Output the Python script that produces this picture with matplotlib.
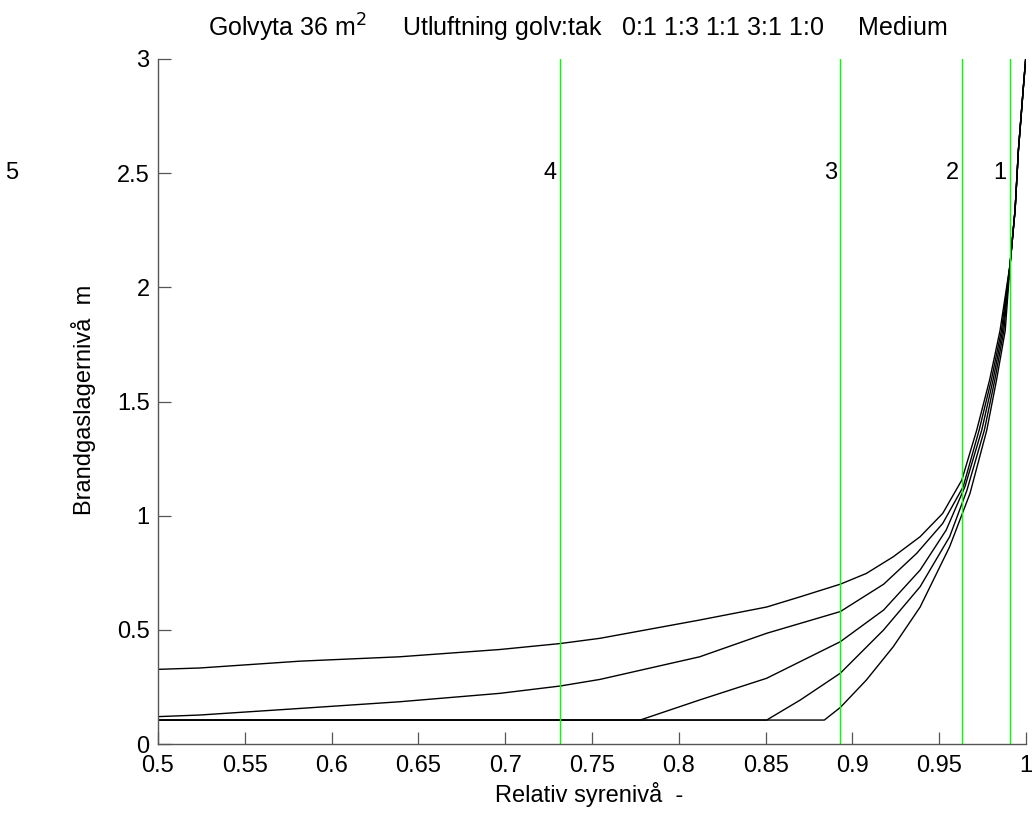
import numpy as np
from matplotlib import pyplot as plt

plt.rcParams['font.family'] = ['Liberation Sans', 'DejaVu Sans']

# shared upper part where all curves run together
top_x = [0.9908, 0.9937, 0.9956, 0.9985, 0.9998]
top_y = [2.1, 2.34, 2.6, 2.88, 3.0]

# curves, top to bottom at x=0.5
a_x = [0.5, 0.524, 0.582, 0.639, 0.697, 0.7316, 0.7546, 0.812, 0.8506, 0.870,
       0.893, 0.908, 0.9235, 0.939, 0.952, 0.963, 0.9716, 0.979, 0.985]
a_y = [0.327, 0.333, 0.363, 0.382, 0.414, 0.44, 0.463, 0.543, 0.60, 0.645,
       0.70, 0.747, 0.82, 0.908, 1.01, 1.156, 1.375, 1.594, 1.81]
b_x = [0.5, 0.524, 0.582, 0.639, 0.697, 0.7316, 0.7546, 0.812, 0.8506, 0.893,
       0.918, 0.937, 0.952, 0.9638, 0.973, 0.980, 0.9858]
b_y = [0.12, 0.127, 0.156, 0.185, 0.222, 0.254, 0.283, 0.382, 0.485, 0.58,
       0.70, 0.835, 0.966, 1.127, 1.375, 1.594, 1.81]
c_x = [0.5, 0.7777, 0.812, 0.8506, 0.893, 0.918, 0.939, 0.954, 0.9648, 0.9745,
       0.981, 0.9865]
c_y = [0.105, 0.105, 0.193, 0.288, 0.448, 0.587, 0.762, 0.937, 1.127, 1.375,
       1.594, 1.81]
d_x = [0.5, 0.8506, 0.870, 0.893, 0.918, 0.939, 0.956, 0.9659, 0.976, 0.982, 0.9872]
d_y = [0.105, 0.105, 0.193, 0.31, 0.50, 0.689, 0.908, 1.11, 1.375, 1.594, 1.81]
e_x = [0.5, 0.8838, 0.893, 0.908, 0.9235, 0.939, 0.956, 0.9677, 0.9774, 0.983, 0.988]
e_y = [0.105, 0.105, 0.16, 0.28, 0.426, 0.60, 0.864, 1.097, 1.375, 1.594, 1.81]

# green reference lines and their labels
ref_x = [0.9908, 0.9633, 0.893, 0.7316, 0.4217]
ref_lbl = ['1', '2', '3', '4', '5']
lbl_y = 2.5

xticks = np.arange(0.5, 1.0001, 0.05)
xticklbl = ['0.5', '0.55', '0.6', '0.65', '0.7', '0.75', '0.8', '0.85', '0.9', '0.95', '1']
yticks = np.arange(0, 3.0001, 0.5)
yticklbl = ['0', '0.5', '1', '1.5', '2', '2.5', '3']

fig = plt.figure(figsize=(10.34, 8.16), dpi=100)
ax = fig.add_axes([0.1528, 0.0882, 0.8395, 0.8395])
fs = 17

for xs, ys in [(a_x, a_y), (b_x, b_y), (c_x, c_y), (d_x, d_y), (e_x, e_y)]:
    ax.plot(xs + top_x, ys + top_y, color='black', lw=1.0)

for xv, lb in zip(ref_x, ref_lbl):
    ax.axvline(xv, color='#00ff00', lw=1.0)
    ax.text(xv - 0.002, lbl_y, lb, ha='right', va='center', fontsize=fs, clip_on=False)

ax.set_xlim(0.5, 1.0)
ax.set_ylim(0, 3)
ax.set_xticks(xticks)
ax.set_xticklabels(xticklbl)
ax.set_yticks(yticks)
ax.set_yticklabels(yticklbl)
ax.tick_params(direction='in', length=9, width=0.9, color='#555555', labelsize=fs)
ax.tick_params(axis='x', pad=8)
ax.tick_params(axis='y', pad=6)
for s in ['top', 'right']:
    ax.spines[s].set_visible(False)
for s in ['left', 'bottom']:
    ax.spines[s].set_color('#555555')
    ax.spines[s].set_linewidth(1.0)

fig.text(0.559, 0.955, r'Golvyta 36 m$^2$     Utluftning golv:tak   0:1 1:3 1:1 3:1 1:0     Medium',
         ha='center', va='baseline', fontsize=18)
fig.text(0.57, 0.026, 'Relativ syrenivå  -', ha='center', va='center', fontsize=fs)
fig.text(0.081, 0.51, 'Brandgaslagernivå  m', ha='center', va='center', rotation=90, fontsize=fs)

fig.savefig('out.png', dpi=100)
